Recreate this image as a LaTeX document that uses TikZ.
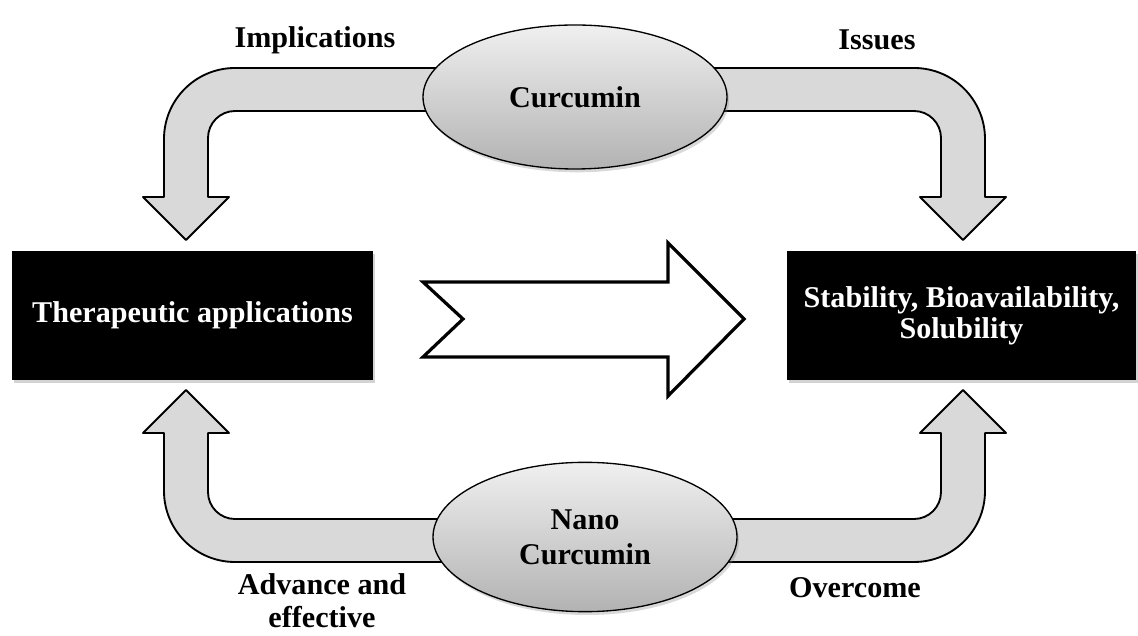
\documentclass[tikz,border=0pt]{standalone}
\usepackage{fontspec}
\setmainfont{Liberation Serif}
\usetikzlibrary{shapes.geometric,shadows}

\begin{document}
\begin{tikzpicture}[x=0.75pt, y=0.75pt,
  band/.style={fill=black!15, draw=black, line width=1.4pt, line join=round},
  blackbox/.style={fill=black, text=white, inner sep=0pt, align=center,
    drop shadow={opacity=0.35, shadow xshift=1.5pt, shadow yshift=-2pt}},
  oval/.style={ellipse, draw=black, line width=1pt, top color=black!6, bottom color=black!30,
    inner sep=0pt, align=center,
    drop shadow={opacity=0.3, shadow xshift=1.5pt, shadow yshift=-2.5pt}},
  lbl/.style={align=center, inner sep=0pt}]
\useasboundingbox (0,0) rectangle (1138,635);
\fontsize{22.6}{26}\selectfont\bfseries
\path[band] (480,567) -- (235,567) arc[start angle=90, end angle=180, radius=71] -- (164,438) -- (143,438) -- (186,395) -- (229,438) -- (208,438) -- (208,497) arc[start angle=180, end angle=90, radius=27] -- (480,524) -- cycle;
\path[band] (670,567) -- (914,567) arc[start angle=90, end angle=0, radius=71] -- (985,438) -- (1006,438) -- (963,395) -- (920,438) -- (941,438) -- (941,497) arc[start angle=0, end angle=90, radius=27] -- (670,524) -- cycle;
\path[band] (480,73) -- (235,73) arc[start angle=270, end angle=180, radius=71] -- (164,202) -- (143,202) -- (186,245) -- (229,202) -- (208,202) -- (208,143) arc[start angle=180, end angle=270, radius=27] -- (480,116) -- cycle;
\path[band] (690,73) -- (914,73) arc[start angle=270, end angle=360, radius=71] -- (985,202) -- (1006,202) -- (963,245) -- (920,202) -- (941,202) -- (941,143) arc[start angle=0, end angle=-90, radius=27] -- (690,116) -- cycle;
\draw[line width=2.4pt, fill=white, line join=miter] (423,353) -- (668,353) -- (668,392) -- (744,316) -- (668,239) -- (668,278) -- (423,278) -- (463,316) -- cycle;
\node[oval, minimum width=228pt, minimum height=108pt] (curcumin) at (575,538) {Curcumin};
\node[oval, minimum width=228pt, minimum height=112pt] (nano) at (585,98) {Nano\\Curcumin};
\node[blackbox, minimum width=270.75pt, minimum height=96.75pt] (therapy) at (192.5,319.5) {Therapeutic applications};
\node[blackbox, minimum width=261.75pt, minimum height=96.75pt, font=\fontsize{22.6}{23.5}\selectfont\bfseries] (issues) at (961.5,319.5) {Stability, Bioavailability,\\Solubility};
\node[lbl] (implications) at (315,595) {Implications};
\node[lbl] (issueslbl) at (877,595) {Issues};
\node[lbl, font=\fontsize{22.6}{25}\selectfont\bfseries] (advance) at (322,34) {Advance and\\effective};
\node[lbl] (overcome) at (855,47) {Overcome};
\end{tikzpicture}
\end{document}
